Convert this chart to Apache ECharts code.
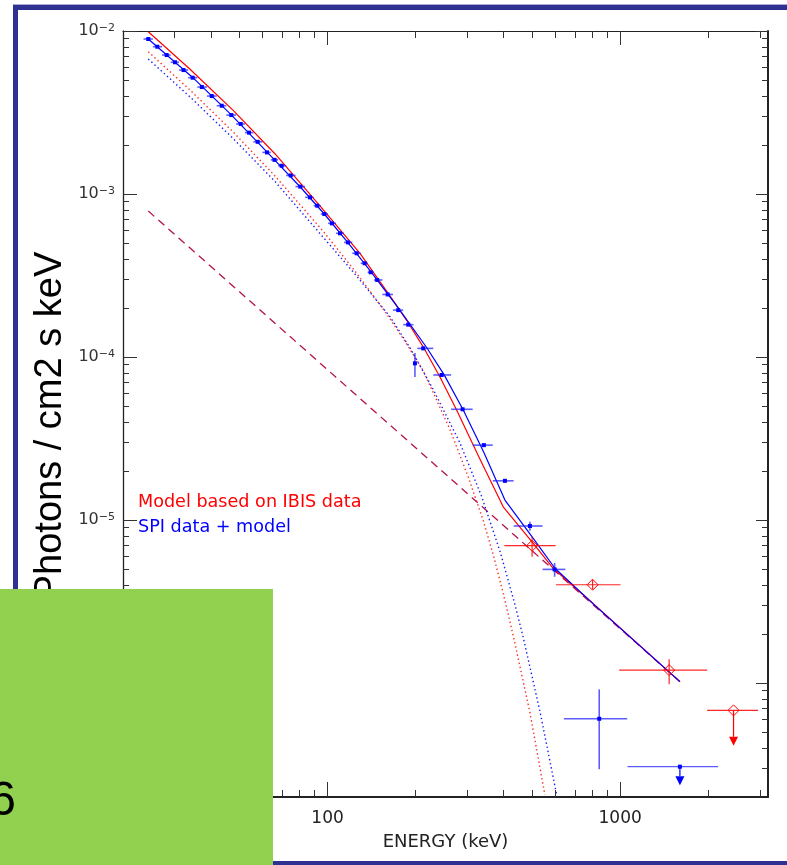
<!DOCTYPE html>
<html>
<head>
<meta charset="utf-8">
<title>Photon spectrum</title>
<script src="https://cdn.jsdelivr.net/npm/echarts@6/dist/echarts.min.js"></script>
<style>
  html, body { margin: 0; padding: 0; background: #ffffff; }
  #chart { width: 787px; height: 865px; }
</style>
</head>
<body>
<div id="chart"></div>
<script>
// ---- Axis ranges and tick values ----
const xRange = [20, 3200];
const yRange = [2e-7, 1e-2];
const xLabelValues = [100, 1000];
const xMajorTicks = [100, 1000];
const xMinorTicks = [30, 40, 50, 60, 70, 80, 90, 200, 300, 400, 500, 600, 700, 800, 900, 2000, 3000];
const yLabelValues = [1e-6, 1e-5, 1e-4, 1e-3, 1e-2];
const yMajorTicks = [1e-6, 1e-5, 1e-4, 1e-3, 1e-2];
const yMinorTicks = [
  3e-7, 4e-7, 5e-7, 6e-7, 7e-7, 8e-7, 9e-7,
  2e-6, 3e-6, 4e-6, 5e-6, 6e-6, 7e-6, 8e-6, 9e-6,
  2e-5, 3e-5, 4e-5, 5e-5, 6e-5, 7e-5, 8e-5, 9e-5,
  2e-4, 3e-4, 4e-4, 5e-4, 6e-4, 7e-4, 8e-4, 9e-4,
  2e-3, 3e-3, 4e-3, 5e-3, 6e-3, 7e-3, 8e-3, 9e-3
];

// ---- SPI spectrum: bin centre, bin edges (keV), flux and flux errors (photons / cm2 s keV) ----
const spiEnergy = [24.4, 26.2, 28.2, 30.1, 32.2, 34.6, 37.2, 40.2, 43.5, 46.9,
  50.5, 53.9, 57.7, 62.1, 65.9, 69.7, 74.8, 80.7, 87.1, 92.2,
  97.5, 103.5, 110.3, 117.4, 125.7, 133.9, 140.4, 147.8, 160.5, 174.4,
  188.7, 198.9, 212.3, 245.4, 289.4, 342.2, 403.8, 491.6, 597, 848];
const spiELow = [23.5, 25.3, 27.2, 29.1, 31.1, 33.4, 35.9, 38.7, 41.8, 45.1,
  48.7, 52.2, 55.8, 59.9, 64.0, 67.8, 72.2, 77.7, 83.8, 89.6,
  94.8, 100.4, 106.9, 113.8, 121.5, 129.8, 137.1, 144.0, 154.0, 167.3,
  181.4, 197, 202.6, 229.8, 264.4, 313.3, 367, 432.5, 543, 642];
const spiEHigh = [25.3, 27.2, 29.1, 31.1, 33.4, 35.9, 38.7, 41.8, 45.1, 48.7,
  52.2, 55.8, 59.9, 64.0, 67.8, 72.2, 77.7, 83.8, 89.6, 94.8,
  100.4, 106.9, 113.8, 121.5, 129.8, 137.1, 144.0, 154.0, 167.3, 181.4,
  196.5, 201, 229.8, 264.4, 313.3, 367, 432.5, 543, 650, 1057];
const spiFlux = [8.93e-3, 8.01e-3, 7.12e-3, 6.43e-3, 5.76e-3, 5.17e-3, 4.53e-3, 3.99e-3, 3.48e-3, 3.05e-3,
  2.69e-3, 2.38e-3, 2.09e-3, 1.80e-3, 1.62e-3, 1.49e-3, 1.30e-3, 1.11e-3, 9.54e-4, 8.48e-4,
  7.54e-4, 6.61e-4, 5.74e-4, 5.05e-4, 4.33e-4, 3.76e-4, 3.31e-4, 2.97e-4, 2.42e-4, 1.94e-4,
  1.58e-4, 9.15e-5, 1.13e-4, 7.76e-5, 4.78e-5, 2.88e-5, 1.74e-5, 9.19e-6, 4.98e-6, 6.04e-7];
// null: flux error hidden by the marker
const spiFluxLow = [null, null, null, null, null, null, null, null, null, null,
  null, null, null, null, null, null, null, null, null, null,
  null, null, null, null, null, null, null, null, null, null,
  null, 7.54e-5, null, null, null, null, null, 8.60e-6, 4.49e-6, 2.96e-7];
const spiFluxHigh = [null, null, null, null, null, null, null, null, null, null,
  null, null, null, null, null, null, null, null, null, null,
  null, null, null, null, null, null, null, null, null, null,
  null, 1.058e-4, null, null, null, null, null, 9.76e-6, 5.45e-6, 9.15e-7];
// SPI upper limit
const spiLimitEnergy = [1600];
const spiLimitELow = [1059];
const spiLimitEHigh = [2161];
const spiLimitFlux = [3.07e-7];

// ---- IBIS spectrum ----
const ibisEnergy = [500, 805, 1470];
const ibisELow = [402, 603, 992];
const ibisEHigh = [602, 1003, 1982];
const ibisFlux = [6.96e-6, 4.01e-6, 1.20e-6];
const ibisFluxLow = [5.96e-6, 3.75e-6, 9.82e-7];
const ibisFluxHigh = [7.91e-6, 4.30e-6, 1.40e-6];
// IBIS upper limit
const ibisLimitEnergy = [2440];
const ibisLimitELow = [1982];
const ibisLimitEHigh = [2960];
const ibisLimitFlux = [6.80e-7];

// ---- Model curves ----
// total model fitted to IBIS
const ibisModelE = [24.4, 33.9, 47.6, 66.1, 94.2, 129.1, 163.4, 186.3, 212.3, 242.2, 276.1, 331.6, 398.4, 504.6, 590.3, 830.7, 1600];
const ibisModelF = [9.90e-3, 5.83e-3, 3.26e-3, 1.767e-3, 8.47e-4, 4.32e-4, 2.37e-4, 1.68e-4, 1.155e-4, 7.55e-5, 4.73e-5, 2.37e-5, 1.205e-5, 7.19e-6, 5.06e-6, 2.94e-6, 1.02e-6];
// total model fitted to SPI
const spiModelE = [24.4, 34.6, 46.9, 65.9, 80.7, 97.5, 117.4, 140.4, 174.4, 218.1, 249.8, 290.9, 342.2, 403.8, 504.6, 598.3, 839, 1600];
const spiModelF = [8.93e-3, 5.19e-3, 3.06e-3, 1.621e-3, 1.104e-3, 7.54e-4, 5.04e-4, 3.35e-4, 2.00e-4, 1.144e-4, 7.83e-5, 4.73e-5, 2.60e-5, 1.326e-5, 7.72e-6, 5.06e-6, 2.88e-6, 1.02e-6];
// cut-off components
const ibisCutE = [24.4, 33.9, 47.6, 66.1, 96.7, 124.1, 159.2, 183.9, 212.3, 261.9, 302.5, 340.3, 368.2, 398.4, 430.9, 491.4, 553];
const ibisCutF = [7.46e-3, 4.34e-3, 2.40e-3, 1.291e-3, 5.90e-4, 3.37e-4, 1.84e-4, 1.249e-4, 8.25e-5, 3.60e-5, 1.84e-5, 9.94e-6, 6.15e-6, 3.55e-6, 1.96e-6, 6.62e-7, 2.06e-7];
const spiCutE = [24.4, 33.9, 47.6, 66.1, 96.7, 124.1, 163.4, 191.2, 229.7, 283.5, 336.1, 390.3, 436.9, 466.5, 531.8, 606.5];
const spiCutF = [6.73e-3, 3.94e-3, 2.19e-3, 1.195e-3, 5.42e-4, 3.23e-4, 1.77e-4, 1.142e-4, 6.32e-5, 2.97e-5, 1.398e-5, 6.25e-6, 3.03e-6, 1.90e-6, 6.72e-7, 2.07e-7];
// power-law component
const powerLawE = [24.4, 1600];
const powerLawF = [7.86e-4, 1.02e-6];

// ---- Helpers ----
const FONT = 'DejaVu Sans';
const AXIS_COLOR = '#222222';
const TICK_COLOR = '#333333';
const BLUE = '#0000ff';
const RED = '#ff0000';

const pairs = (xs, ys) => xs.map((x, i) => [x, ys[i]]);

function xAxisDef(position, ticks, len, lineWidth, labels) {
  return {
    type: 'log', logBase: 10, gridIndex: 0, position: position,
    min: xRange[0], max: xRange[1],
    axisLine: { show: lineWidth > 0, onZero: false, lineStyle: { color: AXIS_COLOR, width: lineWidth } },
    axisTick: { show: true, inside: true, length: len, customValues: ticks,
      lineStyle: { color: TICK_COLOR, width: 1 } },
    axisLabel: labels ? {
      show: true, customValues: xLabelValues, margin: 13,
      fontFamily: FONT, fontSize: 17, color: '#222',
      formatter: (v) => String(Math.round(v))
    } : { show: false },
    splitLine: { show: false },
    minorTick: { show: false },
    minorSplitLine: { show: false },
    name: labels ? 'ENERGY (keV)' : '',
    nameLocation: 'middle', nameGap: 36,
    nameTextStyle: { fontFamily: FONT, fontSize: 18, color: '#222' }
  };
}

function yAxisDef(position, ticks, len, lineWidth, labels) {
  return {
    type: 'log', logBase: 10, gridIndex: 0, position: position,
    min: yRange[0], max: yRange[1],
    axisLine: { show: lineWidth > 0, onZero: false, lineStyle: { color: AXIS_COLOR, width: lineWidth } },
    axisTick: { show: true, inside: true, length: len, customValues: ticks,
      lineStyle: { color: TICK_COLOR, width: 1 } },
    axisLabel: labels ? {
      show: true, customValues: yLabelValues, margin: 8,
      formatter: (v) => '{b|10}{s|\u2212' + Math.round(-Math.log10(v)) + '}',
      rich: {
        b: { fontFamily: FONT, fontSize: 16, lineHeight: 16, color: '#333', verticalAlign: 'top' },
        s: { fontFamily: FONT, fontSize: 11, lineHeight: 11, color: '#333', verticalAlign: 'top' }
      }
    } : { show: false },
    splitLine: { show: false },
    minorTick: { show: false },
    minorSplitLine: { show: false }
  };
}

function squareMarker(c, color) {
  return { type: 'rect', shape: { x: c[0] - 2, y: c[1] - 2, width: 4, height: 4 }, style: { fill: color } };
}
function diamondMarker(c, color) {
  const r = 5.5;
  return { type: 'polygon',
    shape: { points: [[c[0], c[1] - r], [c[0] + r, c[1]], [c[0], c[1] + r], [c[0] - r, c[1]]] },
    style: { fill: 'rgba(255,255,255,0)', stroke: color, lineWidth: 1 } };
}

// point with horizontal (bin) and vertical (flux) error bars
function errorPointRenderer(color, barColor, barWidth, marker) {
  return function (params, api) {
    const e = api.value(0), f = api.value(1);
    const eLo = api.value(2), eHi = api.value(3), fLo = api.value(4), fHi = api.value(5);
    const c = api.coord([e, f]);
    const l = api.coord([eLo, f]);
    const r = api.coord([eHi, f]);
    const kids = [{ type: 'line', shape: { x1: l[0], y1: c[1], x2: r[0], y2: c[1] },
      style: { stroke: barColor, lineWidth: barWidth } }];
    if (fLo !== fHi) {
      const lo = api.coord([e, fLo]);
      const hi = api.coord([e, fHi]);
      kids.push({ type: 'line', shape: { x1: c[0], y1: lo[1], x2: c[0], y2: hi[1] },
        style: { stroke: barColor, lineWidth: barWidth } });
    }
    kids.push(marker(c, color));
    return { type: 'group', children: kids };
  };
}

// upper limit: bin bar, marker and a downward arrow
function upperLimitRenderer(color, barColor, marker, stem, head) {
  return function (params, api) {
    const e = api.value(0), f = api.value(1);
    const c = api.coord([e, f]);
    const l = api.coord([api.value(2), f]);
    const r = api.coord([api.value(3), f]);
    return { type: 'group', children: [
      { type: 'line', shape: { x1: l[0], y1: c[1], x2: r[0], y2: c[1] }, style: { stroke: barColor, lineWidth: 1.2 } },
      { type: 'line', shape: { x1: c[0], y1: c[1], x2: c[0], y2: c[1] + stem }, style: { stroke: color, lineWidth: 1.2 } },
      { type: 'polygon', shape: { points: [[c[0] - head / 2, c[1] + stem], [c[0] + head / 2, c[1] + stem], [c[0], c[1] + stem + head]] },
        style: { fill: color } },
      marker(c, color)
    ] };
  };
}

function modelLine(name, xs, ys, color, width, dash, z) {
  return {
    name: name, type: 'line', xAxisIndex: 0, yAxisIndex: 0,
    data: pairs(xs, ys), showSymbol: false, symbol: 'none', silent: true,
    clip: true, z: z, smooth: false,
    lineStyle: { color: color, width: width, type: dash }
  };
}

const spiPoints = spiEnergy.map((e, i) => [e, spiFlux[i], spiELow[i], spiEHigh[i],
  spiFluxLow[i] == null ? spiFlux[i] : spiFluxLow[i],
  spiFluxHigh[i] == null ? spiFlux[i] : spiFluxHigh[i]]);
const ibisPoints = ibisEnergy.map((e, i) => [e, ibisFlux[i], ibisELow[i], ibisEHigh[i], ibisFluxLow[i], ibisFluxHigh[i]]);
const spiLimits = spiLimitEnergy.map((e, i) => [e, spiLimitFlux[i], spiLimitELow[i], spiLimitEHigh[i]]);
const ibisLimits = ibisLimitEnergy.map((e, i) => [e, ibisLimitFlux[i], ibisLimitELow[i], ibisLimitEHigh[i]]);

const chart = echarts.init(document.getElementById('chart'), null, { renderer: 'canvas' });

const option = {
  animation: false,
  backgroundColor: '#ffffff',
  textStyle: { fontFamily: FONT },
  grid: { left: 123, top: 31, width: 645, height: 766, containLabel: false, outerBoundsMode: 'none' },
  xAxis: [
    xAxisDef('bottom', xMajorTicks, 15, 1.8, true),
    xAxisDef('bottom', xMinorTicks, 7, 0, false),
    xAxisDef('top', xMajorTicks, 14, 1.2, false),
    xAxisDef('top', xMinorTicks, 7, 0, false)
  ],
  yAxis: [
    yAxisDef('left', yMajorTicks, 14, 1.3, true),
    yAxisDef('left', yMinorTicks, 6, 0, false),
    yAxisDef('right', yMajorTicks, 12, 2, false),
    yAxisDef('right', yMinorTicks, 6, 0, false)
  ],
  series: [
    modelLine('power law', powerLawE, powerLawF, '#b3124e', 1.3, [8, 5.5], 2),
    modelLine('IBIS cut-off', ibisCutE, ibisCutF, '#ff2a2a', 1.4, [1.4, 2.8], 3),
    modelLine('SPI cut-off', spiCutE, spiCutF, '#1a1aff', 1.4, [1.4, 2.8], 3),
    modelLine('IBIS model', ibisModelE, ibisModelF, RED, 1.2, 'solid', 4),
    modelLine('SPI model', spiModelE, spiModelF, BLUE, 1.2, 'solid', 5),
    {
      name: 'SPI data', type: 'custom', xAxisIndex: 0, yAxisIndex: 0, z: 6,
      data: spiPoints, silent: true,
      renderItem: errorPointRenderer(BLUE, 'rgba(30,30,255,0.72)', 1.6, squareMarker)
    },
    {
      name: 'SPI limit', type: 'custom', xAxisIndex: 0, yAxisIndex: 0, z: 6,
      data: spiLimits, silent: true,
      renderItem: upperLimitRenderer(BLUE, 'rgba(30,30,255,0.72)', squareMarker, 9.5, 9)
    },
    {
      name: 'IBIS data', type: 'custom', xAxisIndex: 0, yAxisIndex: 0, z: 7,
      data: ibisPoints, silent: true,
      renderItem: errorPointRenderer(RED, 'rgba(255,0,0,0.85)', 1.2, diamondMarker)
    },
    {
      name: 'IBIS limit', type: 'custom', xAxisIndex: 0, yAxisIndex: 0, z: 7,
      data: ibisLimits, silent: true,
      renderItem: upperLimitRenderer(RED, 'rgba(255,0,0,0.85)', diamondMarker, 26.5, 9)
    }
  ],
  graphic: {
    elements: [
      // slide frame
      { type: 'rect', z: 50, shape: { x: 13, y: 4, width: 774, height: 1 }, style: { fill: '#aaaad6' } },
      { type: 'rect', z: 50, shape: { x: 13, y: 5, width: 774, height: 5 }, style: { fill: '#2e3192' } },
      { type: 'rect', z: 50, shape: { x: 13, y: 5, width: 5, height: 584 }, style: { fill: '#2e3192' } },
      { type: 'rect', z: 50, shape: { x: 273, y: 861, width: 514, height: 4 }, style: { fill: '#2e3192' } },
      // vertical axis title
      { type: 'text', z: 50, x: 51, y: 426, rotation: Math.PI / 2,
        style: { text: 'Photons / cm2 s keV', font: '38px "Liberation Sans"', fill: '#000000',
          align: 'center', verticalAlign: 'middle', textAlign: 'center', textVerticalAlign: 'middle' } },
      // in-plot legend
      { type: 'text', z: 50, x: 138, y: 502.5,
        style: { text: 'Model based on IBIS data', font: '17.6px "DejaVu Sans"', fill: '#ff0000',
          align: 'left', verticalAlign: 'middle', textAlign: 'left', textVerticalAlign: 'middle' } },
      { type: 'text', z: 50, x: 138, y: 527,
        style: { text: 'SPI data + model', font: '17.6px "DejaVu Sans"', fill: '#0000ff',
          align: 'left', verticalAlign: 'middle', textAlign: 'left', textVerticalAlign: 'middle' } },
      // green panel with page number
      { type: 'rect', z: 100, shape: { x: 0, y: 589, width: 273, height: 276 }, style: { fill: '#92d050' } },
      { type: 'text', z: 101, x: 16, y: 802,
        style: { text: '6', font: '48px "Liberation Sans"', fill: '#000000',
          align: 'right', verticalAlign: 'middle', textAlign: 'right', textVerticalAlign: 'middle' } }
    ]
  }
};

chart.setOption(option);
</script>
</body>
</html>
